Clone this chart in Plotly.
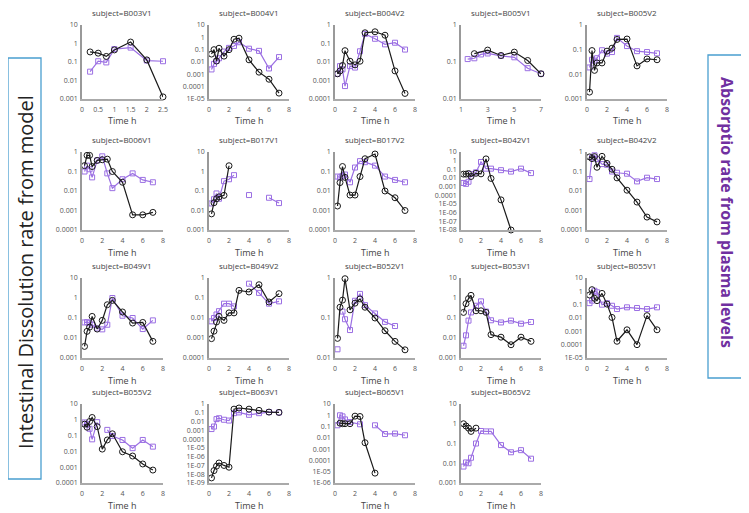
import plotly.graph_objects as go

W, H = 749, 513
OFF = 8                      # the page body margin offsets the chart by 8 px
FW, FH = W - OFF, H - OFF    # figure size that fits inside the window

# ---------------- data ----------------
times = [0.25, 0.5, 0.75, 1, 1.5, 2, 2.5, 3, 4, 5, 6, 7]
t_b003v1 = [0.25, 0.5, 0.75, 1, 1.5, 2, 2.5]
t_b005v1_model = [2, 3, 4, 5, 6, 7]
t_b005v1_plasma = [1.5, 2, 2.5, 3, 4, 5, 6, 7]
t_b065v1_plasma = [0.25, 0.5, 0.75, 1, 1.5, 2.5, 3, 4, 5, 6, 7]

b003v1_model = [0.35, 0.3, 0.2, 0.45, 1.2, 0.13, 0.0013]
b003v1_plasma = [0.03, 0.11, 0.095, 0.5, 0.6, 0.12, 0.11]
b004v1_model = [0.044, 0.1, 0.012, 0.13, 0.03, 0.1, 0.7, 0.85, 0.015, 0.0015, 0.0004, 0.00003]
b004v1_plasma = [0.0025, 0.007, 0.012, 0.02, 0.07, 0.14, 0.2, 0.4, 0.12, 0.08, 0.003, 0.025]
b004v2_model = [0.0023, 0.0033, 0.0065, 0.041, 0.011, 0.007, 0.011, 0.38, 0.43, 0.28, 0.0033, 0.0002]
b004v2_plasma = [0.0023, 0.006, 0.004, 0.0005, 0.006, 0.005, 0.038, 0.33, 0.18, 0.09, 0.11, 0.047]
b005v1_model = [0.168, 0.21, 0.15, 0.185, 0.11, 0.048]
b005v1_plasma = [0.12, 0.126, 0.16, 0.17, 0.147, 0.134, 0.068, 0.048]
b005v2_model = [0.0019, 0.092, 0.0145, 0.029, 0.029, 0.087, 0.115, 0.26, 0.27, 0.022, 0.042, 0.039]
b005v2_plasma = [0.019, 0.039, 0.036, 0.045, 0.095, 0.069, 0.08, 0.3, 0.14, 0.087, 0.08, 0.071]
b006v1_model = [0.2, 0.67, 0.67, 0.18, 0.37, 0.4, 0.43, 0.1, 0.028, 0.0006, 0.0006, 0.0008]
b006v1_plasma = [0.1, 0.2, 0.13, 0.05, 0.37, 0.6, 0.08, 0.014, 0.04, 0.08, 0.037, 0.028]
b017v1_model = [0.0067, 0.025, 0.04, 0.05, 0.06, 1.97, None, None, None, None, None, None]
b017v1_plasma = [0.023, 0.038, 0.075, 0.04, 0.32, 0.4, 0.65, None, 0.062, None, 0.045, 0.024]
b017v2_model = [0.0017, 0.027, 0.18, 0.05, 0.0062, 0.0062, 0.055, 0.45, 0.79, 0.01, 0.0045, 0.001]
b017v2_plasma = [0.055, 0.05, 0.06, 0.07, 0.028, 0.16, 0.34, 0.3, 0.2, 0.055, 0.037, 0.028]
b042v1_model = [0.028, 0.028, 0.033, 0.015, 0.035, 0.03, 1.6, 0.009, 0.00003, 1e-8, None, None]
b042v1_plasma = [0.0027, 0.0021, 0.0037, 0.028, 0.045, 0.7, 0.12, 0.12, 0.08, 0.055, 0.12, 0.037]
b042v2_model = [0.56, 0.46, 0.58, 0.165, 0.6, 0.26, 0.13, 0.047, 0.011, 0.0027, 0.00046, 0.00026]
b042v2_plasma = [0.041, 0.52, 0.68, 0.43, 0.24, 0.22, 0.1, 0.086, 0.077, 0.031, 0.048, 0.041]
b049v1_model = [0.0038, 0.0215, 0.035, 0.12, 0.028, 0.076, 0.46, 0.76, 0.2, 0.056, 0.06, 0.0068]
b049v1_plasma = [0.06, 0.062, 0.055, 0.046, 0.03, 0.027, 0.046, 1.0, 0.13, 0.1, 0.028, 0.076]
b049v2_model = [0.00093, 0.0022, 0.0063, 0.012, 0.0076, 0.018, 0.018, 0.24, 0.2, 0.46, 0.063, 0.165]
b049v2_plasma = [0.0068, 0.01, 0.015, 0.022, 0.052, 0.052, 0.038, None, 0.52, 0.18, 0.052, 0.068]
b052v1_model = [0.031, 0.186, 0.28, 0.96, 0.16, 0.235, 0.3, 0.186, 0.1, 0.048, 0.026, 0.016]
b052v1_plasma = [0.0165, None, 0.145, 0.093, 0.05, 0.27, 0.4, 0.21, 0.13, 0.08, 0.063, None]
b053v1_model = [0.19, 0.52, 0.93, 1.36, 0.23, 0.23, 0.19, 0.0147, 0.011, 0.0046, 0.011, 0.0068]
b053v1_plasma = [0.0041, 0.0136, 0.074, 0.19, 0.41, 0.68, 0.21, 0.077, 0.06, 0.074, 0.052, 0.063]
b055v1_model = [0.53, 1.33, 0.3, 0.2, 0.7, 0.11, 0.011, 0.00018, 0.0013, 0.0001, 0.015, 0.0013]
b055v1_plasma = [0.13, 0.2, 1.1, 0.85, 0.1, 0.13, 0.083, 0.047, 0.063, 0.056, 0.047, 0.063]
b055v2_model = [0.53, 0.34, 0.78, 1.4, 0.37, 0.014, 0.053, 0.13, 0.0095, 0.0051, 0.0016, 0.00066]
b055v2_plasma = [0.68, 0.53, 0.27, 0.058, 0.71, None, 0.23, 0.095, 0.053, 0.016, 0.053, 0.02]
b063v1_model = [3.8e-9, 2.6e-8, 8.3e-8, 1.9e-7, 1e-7, 6.3e-8, 0.26, 0.35, 0.26, 0.19, 0.12, 0.11]
b063v1_plasma = [0.0014, 0.0027, 0.019, 0.024, 0.016, 0.013, 0.09, 0.11, 0.059, 0.09, 0.12, 0.11]
b065v1_model = [None, 0.2, 0.18, 0.18, 0.18, 0.84, 0.78, 0.0037, 7.5e-6, None, None, None]
b065v1_plasma = [0.13, 1.0, 0.8, 0.43, 0.25, 0.16, None, 0.13, 0.022, 0.024, 0.017]
b065v2_model = [1.0, 0.77, 0.6, 0.41, 0.6, None, None, None, None, None, None, None]
b065v2_plasma = [0.0068, 0.011, 0.01, 0.019, 0.1, 0.43, 0.41, 0.41, 0.083, 0.036, 0.046, 0.017]

# name, t_model, model, t_plasma, plasma, x range, x dtick, y decades (min, max)
panels = [
    ("B003V1", t_b003v1, b003v1_model, t_b003v1, b003v1_plasma, (0, 2.5), 0.5, (-3, 1)),
    ("B004V1", times, b004v1_model, times, b004v1_plasma, (0, 8), 2, (-5, 1)),
    ("B004V2", times, b004v2_model, times, b004v2_plasma, (0, 8), 2, (-4, 0)),
    ("B005V1", t_b005v1_model, b005v1_model, t_b005v1_plasma, b005v1_plasma, (1, 7), 2, (-2, 0)),
    ("B005V2", times, b005v2_model, times, b005v2_plasma, (0, 8), 2, (-3, 0)),
    ("B006V1", times, b006v1_model, times, b006v1_plasma, (0, 8), 2, (-4, 0)),
    ("B017V1", times, b017v1_model, times, b017v1_plasma, (0, 8), 2, (-3, 1)),
    ("B017V2", times, b017v2_model, times, b017v2_plasma, (0, 8), 2, (-4, 0)),
    ("B042V1", times, b042v1_model, times, b042v1_plasma, (0, 8), 2, (-8, 1)),
    ("B042V2", times, b042v2_model, times, b042v2_plasma, (0, 8), 2, (-4, 0)),
    ("B049V1", times, b049v1_model, times, b049v1_plasma, (0, 8), 2, (-3, 1)),
    ("B049V2", times, b049v2_model, times, b049v2_plasma, (0, 8), 2, (-4, 0)),
    ("B052V1", times, b052v1_model, times, b052v1_plasma, (0, 8), 2, (-2, 0)),
    ("B053V1", times, b053v1_model, times, b053v1_plasma, (0, 8), 2, (-3, 1)),
    ("B055V1", times, b055v1_model, times, b055v1_plasma, (0, 8), 2, (-5, 1)),
    ("B055V2", times, b055v2_model, times, b055v2_plasma, (0, 8), 2, (-4, 1)),
    ("B063V1", times, b063v1_model, times, b063v1_plasma, (0, 8), 2, (-9, 0)),
    ("B065V1", times, b065v1_model, t_b065v1_plasma, b065v1_plasma, (0, 8), 2, (-6, 1)),
    ("B065V2", times, b065v2_model, times, b065v2_plasma, (0, 8), 2, (-3, 1)),
]

left_label = "Intestinal Dissolution rate from model"
right_label = "Absorptio rate from plasma levels"
x_title = "Time h"

# ---------------- layout geometry (window pixels) ----------------
col_x = [(82, 163), (209, 289), (335, 415), (461, 541), (587, 667)]
row_y = [(25, 99), (152, 230), (278, 358), (404, 483)]

BLACK = "#1a1a1a"
PURPLE = "#9b6fe3"
FONT = "Open Sans"


def px_x(v):
    return (v - OFF) / FW


def px_y(v):
    return 1 - (v - OFF) / FH


def log_label(e):
    if e >= 0:
        return str(10 ** e)
    if e >= -4:
        return "0." + "0" * (-e - 1) + "1"
    return "1E-%02d" % (-e)


fig = go.Figure()
annotations = []

for i, (name, tm, ym, tp, yp, xr, dt, (e0, e1)) in enumerate(panels):
    r, c = divmod(i, 5)
    k = "" if i == 0 else str(i + 1)
    x0, x1 = col_x[c]
    y0, y1 = row_y[r]
    fig.add_trace(go.Scatter(
        x=tp, y=yp, mode="lines+markers", xaxis="x" + k, yaxis="y" + k,
        line=dict(color=PURPLE, width=1.2), cliponaxis=False,
        marker=dict(symbol="square-open", size=5, color=PURPLE, line=dict(width=1)),
        connectgaps=False, showlegend=False))
    fig.add_trace(go.Scatter(
        x=tm, y=ym, mode="lines+markers", xaxis="x" + k, yaxis="y" + k,
        line=dict(color=BLACK, width=1.2), cliponaxis=False,
        marker=dict(symbol="circle-open", size=6, color=BLACK, line=dict(width=1)),
        connectgaps=False, showlegend=False))
    tv = list(range(e0, e1 + 1))
    ticks_x = []
    v = xr[0]
    while v <= xr[1] + 1e-9:
        ticks_x.append(v)
        v += dt
    fig.update_layout({
        "xaxis" + k: dict(domain=[px_x(x0), px_x(x1)], anchor="y" + k, range=list(xr),
                          tickvals=ticks_x, ticktext=[("%g" % t) for t in ticks_x],
                          showline=True, linecolor="#aaaaaa", linewidth=1.5,
                          showgrid=False, zeroline=False, ticks="outside", ticklen=3,
                          tickcolor="rgba(0,0,0,0)", automargin=False,
                          tickfont=dict(size=7, color="#555555", family=FONT)),
        "yaxis" + k: dict(domain=[px_y(y1), px_y(y0)], anchor="x" + k, type="log",
                          range=[e0, e1], tickvals=[10.0 ** e for e in tv],
                          ticktext=[log_label(e) for e in tv],
                          showline=True, linecolor="#999999", linewidth=1.8,
                          showgrid=False, zeroline=False, ticks="outside", ticklen=1,
                          tickcolor="rgba(0,0,0,0)", automargin=False,
                          tickfont=dict(size=7, color="#555555", family=FONT)),
    })
    annotations.append(dict(text="subject=" + name, x=px_x((x0 + x1) / 2), y=px_y(y0 - 13),
                            xref="paper", yref="paper", showarrow=False,
                            xanchor="center", yanchor="middle",
                            font=dict(size=8, color="#444444", family=FONT)))
    annotations.append(dict(text=x_title, x=px_x((x0 + x1) / 2), y=px_y(y1 + 22),
                            xref="paper", yref="paper", showarrow=False,
                            xanchor="center", yanchor="middle",
                            font=dict(size=9, color="#444444", family=FONT)))

annotations.append(dict(text=left_label, textangle=-90, x=px_x(25), y=px_y(272),
                        xref="paper", yref="paper", showarrow=False,
                        xanchor="center", yanchor="middle",
                        font=dict(size=20, color="#222222", family=FONT)))
annotations.append(dict(text="<b>" + right_label + "</b>", textangle=90, x=px_x(727), y=px_y(212),
                        xref="paper", yref="paper", showarrow=False,
                        xanchor="center", yanchor="middle",
                        font=dict(size=16, color="#7030a0", family=FONT)))

shapes = [
    dict(type="rect", xref="paper", yref="paper", x0=px_x(8), x1=px_x(41), y0=px_y(479), y1=px_y(58),
         line=dict(color="#4a9fd0", width=1.3)),
    dict(type="rect", xref="paper", yref="paper", x0=px_x(708), x1=px_x(744), y0=px_y(378), y1=px_y(55),
         line=dict(color="#4a9fd0", width=1.3)),
]

fig.update_layout(width=FW, height=FH, margin=dict(l=0, r=0, t=0, b=0, autoexpand=False),
                  paper_bgcolor="white", plot_bgcolor="white",
                  annotations=annotations, shapes=shapes,
                  font=dict(family=FONT))

fig.write_html("out.html")
